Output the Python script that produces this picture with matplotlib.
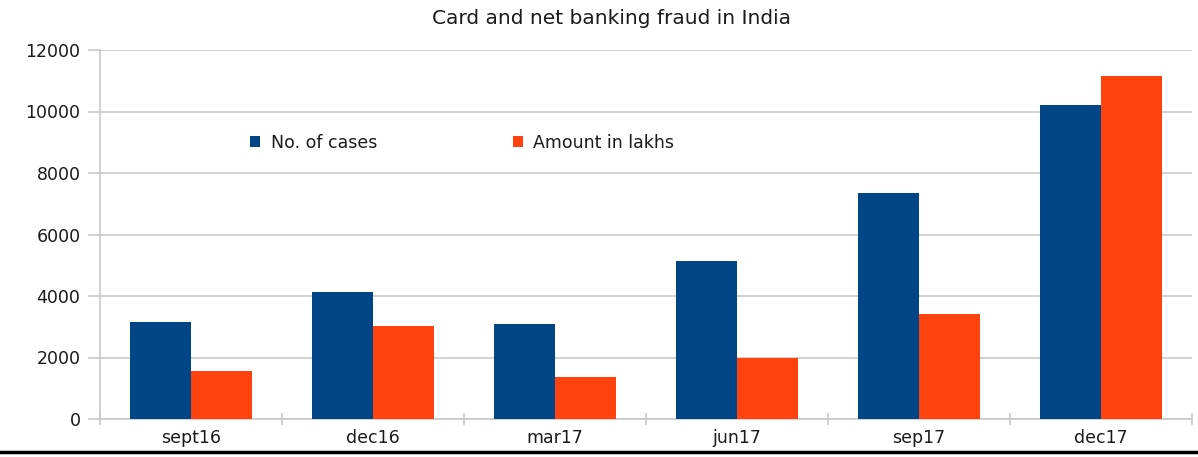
import matplotlib
matplotlib.use("Agg")
import matplotlib.pyplot as plt
from matplotlib.lines import Line2D
import numpy as np

# data
categories = ["sept16", "dec16", "mar17", "jun17", "sep17", "dec17"]
cases = [3150, 4130, 3090, 5140, 7350, 10210]
amount = [1560, 3020, 1370, 1980, 3420, 11150]
yticks = [0, 2000, 4000, 6000, 8000, 10000, 12000]

blue = "#004586"
orange = "#ff420e"
grid_c = "#c8c8c8"
txt_c = "#1a1a1a"

plt.rcParams['font.family'] = ['DejaVu Sans']

fig = plt.figure(figsize=(11.98, 4.57), dpi=100)
ax = fig.add_axes([100 / 1198, 1 - 419 / 457, 1092 / 1198, 369 / 457])

x = np.arange(len(categories))
w = 0.335
ax.bar(x - w / 2, cases, w, color=blue, label="No. of cases", zorder=3)
ax.bar(x + w / 2, amount, w, color=orange, label="Amount in lakhs", zorder=3)

ax.set_xlim(-0.5, len(categories) - 0.5)
ax.set_ylim(0, 12000)
ax.set_yticks(yticks)
ax.set_yticklabels([str(v) for v in yticks], fontsize=12.5, color=txt_c)
ax.set_xticks(x)
ax.set_xticklabels(categories, fontsize=12.5, color=txt_c)
ax.tick_params(axis="x", length=0, pad=7)
ax.tick_params(axis="y", length=9, color=grid_c, width=1.2, pad=5)
# small marks between the categories
ax.set_xticks(np.arange(-0.5, len(categories)), minor=True)
ax.tick_params(axis="x", which="minor", length=8, direction="inout", color=grid_c, width=1.2)

ax.grid(axis="y", color=grid_c, linewidth=1.2, zorder=0)
for s in ["top", "right"]:
    ax.spines[s].set_visible(False)
for s in ["left", "bottom"]:
    ax.spines[s].set_color(grid_c)
    ax.spines[s].set_linewidth(1.2)

ax.legend(loc="center left", bbox_to_anchor=(0.123, 0.748), ncol=2, frameon=False,
          fontsize=12.5, handlelength=0.6, handleheight=0.6, handletextpad=0.6,
          columnspacing=7.8, labelcolor=txt_c)

fig.text(611 / 1198, 1 - 18 / 457, "Card and net banking fraud in India",
         ha="center", va="center", fontsize=14.5, color=txt_c)

# dark rule at the bottom edge
fig.add_artist(Line2D([0, 1], [1 - 452 / 457, 1 - 452 / 457], color="black",
                      linewidth=2.5, transform=fig.transFigure))

fig.savefig("out.png", dpi=100)
